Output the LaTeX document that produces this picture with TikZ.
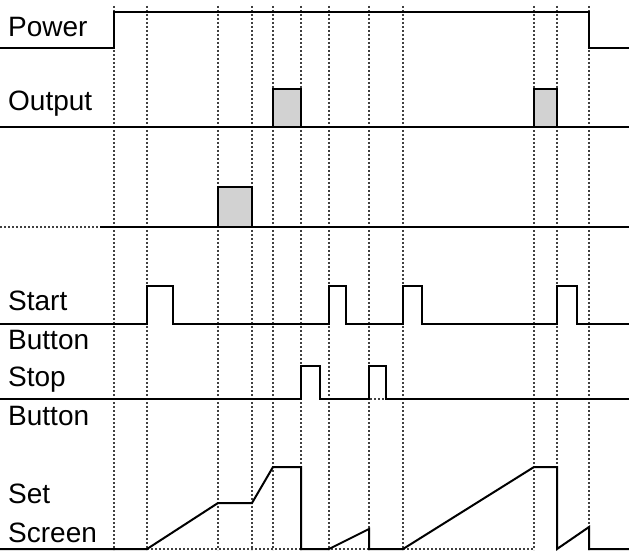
\documentclass[tikz,border=0pt]{standalone}
\usepackage{fontspec}
\setmainfont{Liberation Sans}
\usetikzlibrary{calc}
\begin{document}
\begin{tikzpicture}[x=1pt,y=-1pt]
\tikzset{sig/.style={line width=2pt, line join=miter},
  grid/.style={line width=1.8pt, dash pattern=on 1.8pt off 2.2pt, black!75},
  lbl/.style={anchor=west, inner sep=0pt, font=\fontsize{28}{30}\selectfont}};
\useasboundingbox (0,0) rectangle (629,556);
% dotted time marks
\foreach \t in {114,147,218,252,273,301,329,369,403,534,557,589}
  \draw[grid] (\t,6) -- (\t,550);
% dotted baselines
\draw[grid] (0,227) -- (100,227);
\draw[grid] (147,549) -- (534,549);
\draw[grid] (330,399) -- (629,399);
% Power
\draw[sig] (0,48) -- (114,48) -- (114,12) -- (589,12) -- (589,48) -- (629,48);
% Output
\draw[sig, fill=gray!35] (273,127) -- (273,89) -- (301,89) -- (301,127);
\draw[sig, fill=gray!35] (534,127) -- (534,89) -- (557,89) -- (557,127);
\draw[sig] (0,127) -- (629,127);
% unnamed row
\draw[sig, fill=gray!35] (218,227) -- (218,187) -- (252,187) -- (252,227);
\draw[sig] (100,227) -- (629,227);
% Start button
\draw[sig] (0,324) -- (147,324) -- (147,286) -- (173,286) -- (173,324)
  -- (329,324) -- (329,286) -- (346,286) -- (346,324)
  -- (403,324) -- (403,286) -- (422,286) -- (422,324)
  -- (557,324) -- (557,286) -- (577,286) -- (577,324) -- (629,324);
% Stop button
\draw[sig] (0,399) -- (301,399) -- (301,366) -- (320,366) -- (320,399)
  -- (369,399) -- (369,366) -- (386,366) -- (386,399) -- (629,399);
% Set screen
\draw[sig] (0,549) -- (147,549) -- (218,503) -- (252,503) -- (273,467)
  -- (301,467) -- (301,549) -- (329,549) -- (369,529) -- (369,549)
  -- (403,549) -- (534,467) -- (557,467) -- (557,549) -- (589,527)
  -- (589,549) -- (629,549);
% labels
\node[lbl] (power) at (8,27) {Power};
\node[lbl] (output) at (8,104) {Output};
\node[lbl] (start) at (8,301) {Start};
\node[lbl] (startb) at (8,340) {Button};
\node[lbl] (stop) at (8,380) {Stop};
\node[lbl] (stopb) at (8,416) {Button};
\node[lbl] (set) at (8,494) {Set};
\node[lbl] (screen) at (8,533) {Screen};
\end{tikzpicture}
\end{document}
